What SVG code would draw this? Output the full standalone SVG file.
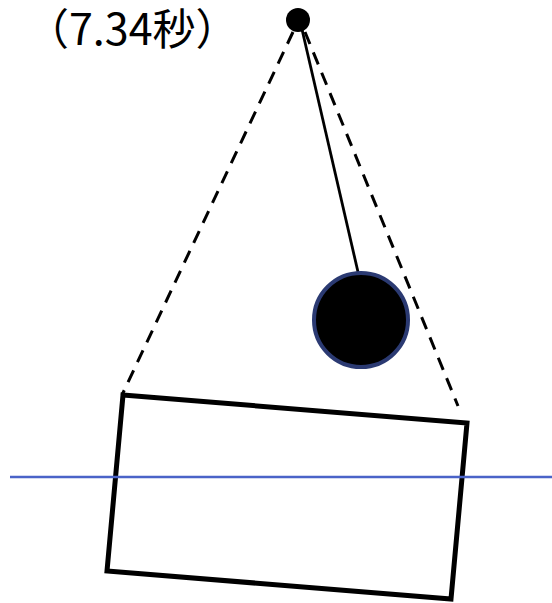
<svg xmlns="http://www.w3.org/2000/svg" width="552" height="603" viewBox="0 0 552 603">
<style>
.dash{stroke:#000;stroke-width:3;stroke-dasharray:13 9;fill:none}
.rod{stroke:#000;stroke-width:2.8;fill:none}
.label{font-family:"Noto Sans CJK JP","Noto Sans CJK SC",sans-serif;font-size:43px;fill:#000}
</style>
<rect width="552" height="603" fill="#fff"/>
<g id="connectors">
<line class="dash" x1="293" y1="32" x2="122" y2="395"/>
<line class="dash" x1="305" y1="32" x2="458" y2="406"/>
<line class="rod" x1="301" y1="25" x2="358" y2="272"/>
</g>
<g id="pivot"><circle cx="298" cy="20" r="12" fill="#000"/></g>
<g id="bob"><circle cx="361" cy="320" r="47" fill="#000" stroke="#2b3a72" stroke-width="4"/></g>
<g id="box"><polygon points="123,395 467,423 451,599 107,571" fill="none" stroke="#000" stroke-width="5" stroke-linejoin="miter"/></g>
<g id="waterline"><line x1="10" y1="477" x2="552" y2="477" stroke="#4a63c8" stroke-width="2.5"/></g>
<g id="title"><text class="label" x="26" y="45">（7.34秒）</text></g>
</svg>
